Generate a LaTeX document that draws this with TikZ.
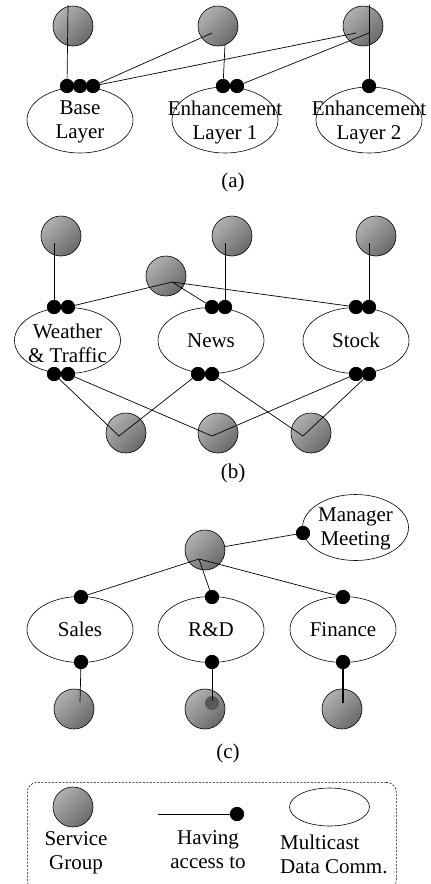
\documentclass[tikz,border=0pt]{standalone}
\usepackage{fontspec}
\setmainfont{Liberation Serif}
\usetikzlibrary{shapes.geometric}
\definecolor{grplight}{HTML}{B0B0B0}
\definecolor{grpdark}{HTML}{6A6A6A}
\definecolor{innerdot}{HTML}{585858}
\tikzset{
  grp/.style={circle, draw=black, line width=0.6pt, minimum size=40pt, inner sep=0pt,
    shading=axis, top color=grplight, bottom color=grpdark, shading angle=45},
  mc/.style={ellipse, draw=black, line width=0.6pt, minimum width=106pt, minimum height=66pt,
    inner sep=0pt, fill=white},
  acc/.style={circle, fill=black, minimum size=14pt, inner sep=0pt},
  txt/.style={font=\fontsize{21}{24}\selectfont, align=center, inner sep=0pt},
  link/.style={line width=0.7pt},
  legendbox/.style={draw=black, line width=0.6pt, rounded corners=10pt, dash pattern=on 2pt off 1.5pt}
}
\begin{document}
\begin{tikzpicture}[x=1pt, y=-1pt]
\useasboundingbox (0,0) rectangle (431,884);

% ---------------- (a) layered video ----------------
\node[grp] (ga1) at (73,26) {};
\node[grp] (ga2) at (218,26) {};
\node[grp] (ga3) at (363,26) {};
\node[mc] (ea1) at (80,120) {};
\node[mc] (ea2) at (225,120) {};
\node[mc] (ea3) at (369,120) {};
\node[txt] (ta1) at (80,122) {Base\\Layer};
\node[txt] (ta2) at (225,122) {Enhancement\\Layer 1};
\node[txt] (ta3) at (369,122) {Enhancement\\Layer 2};
\coordinate (pa1) at (68,5);
\coordinate (pa2) at (212,33);
\coordinate (pa3) at (225,45);
\coordinate (pa4) at (356,33);
\coordinate (pa5) at (369,33);
\coordinate (pa6) at (369,5);
\node[acc] (da1) at (67,86) {};
\node[acc] (da2) at (80,86) {};
\node[acc] (da3) at (93,86) {};
\node[acc] (da4) at (223,86) {};
\node[acc] (da5) at (237,86) {};
\node[acc] (da6) at (369,86) {};
\draw[link] (pa1) -- (da1);
\draw[link] (pa2) -- (da3);
\draw[link] (pa4) -- (da3);
\draw[link] (pa3) -- (da4);
\draw[link] (pa5) -- (da5);
\draw[link] (pa6) -- (da6);
\node[acc] at (da1) {};
\node[acc] at (da2) {};
\node[acc] at (da3) {};
\node[acc] at (da4) {};
\node[acc] at (da5) {};
\node[acc] at (da6) {};
\node[txt] (capa) at (233,182) {(a)};

% ---------------- (b) information services ----------------
\node[grp] (gb1) at (61,236) {};
\node[grp] (gb2) at (232,236) {};
\node[grp] (gb3) at (376,236) {};
\node[grp] (gbh) at (166,276) {};
\node[grp] (gb4) at (126,433) {};
\node[grp] (gb5) at (218,433) {};
\node[grp] (gb6) at (311,433) {};
\node[mc] (eb1) at (67.5,340.5) {};
\node[mc] (eb2) at (211,340.5) {};
\node[mc] (eb3) at (356,340.5) {};
\node[txt] (tb1) at (67.5,343) {Weather\\\& Traffic};
\node[txt] (tb2) at (211,340.5) {News};
\node[txt] (tb3) at (356,340.5) {Stock};
\coordinate (pb1) at (54,243);
\coordinate (pb2) at (225,243);
\coordinate (pb3) at (369,243);
\coordinate (pbh) at (172,282);
\coordinate (pb4) at (119,436);
\coordinate (pb5) at (212,436);
\coordinate (pb6) at (303,436);
\node[acc] (db1) at (54,307) {};
\node[acc] (db2) at (68,307) {};
\node[acc] (db3) at (212,307) {};
\node[acc] (db4) at (225,307) {};
\node[acc] (db5) at (356,307) {};
\node[acc] (db6) at (369,307) {};
\node[acc] (db7) at (54,374) {};
\node[acc] (db8) at (68,374) {};
\node[acc] (db9) at (198,374) {};
\node[acc] (db10) at (212,374) {};
\node[acc] (db11) at (356,374) {};
\node[acc] (db12) at (369,374) {};
\draw[link] (pb1) -- (db1);
\draw[link] (pb2) -- (db4);
\draw[link] (pb3) -- (db6);
\draw[link] (pbh) -- (db2);
\draw[link] (pbh) -- (db3);
\draw[link] (pbh) -- (db5);
\draw[link] (db7) -- (pb4);
\draw[link] (db8) -- (pb5);
\draw[link] (db9) -- (pb4);
\draw[link] (db10) -- (pb6);
\draw[link] (db11) -- (pb5);
\draw[link] (db12) -- (pb6);
\foreach \d in {db1,db2,db3,db4,db5,db6,db7,db8,db9,db10,db11,db12}
  \node[acc] at (\d) {};
\node[txt] (capb) at (233,473) {(b)};

% ---------------- (c) company groups ----------------
\node[mc] (ecm) at (355.5,527.5) {};
\node[txt] (tcm) at (355.5,529) {Manager\\Meeting};
\node[grp] (gch) at (205,550) {};
\node[mc] (ec1) at (80,629.5) {};
\node[mc] (ec2) at (211,629.5) {};
\node[mc] (ec3) at (343,629.5) {};
\node[txt] (tc1) at (80,629.5) {Sales};
\node[txt] (tc2) at (211,629.5) {R\&D};
\node[txt] (tc3) at (343,629.5) {Finance};
\node[grp] (gc1) at (74,709) {};
\node[grp] (gc2) at (205,709) {};
\node[grp] (gc3) at (342,709) {};
\node[circle, fill=innerdot, minimum size=14pt, inner sep=0pt] (gc2in) at (212,703) {};
\coordinate (pch) at (199,559);
\coordinate (pc1) at (80,702);
\coordinate (pc2) at (212,701);
\coordinate (pc3) at (343,703);
\node[acc] (dcm) at (303,533) {};
\node[acc] (dc1) at (81,597) {};
\node[acc] (dc2) at (212,597) {};
\node[acc] (dc3) at (343,597) {};
\node[acc] (dc4) at (81,662) {};
\node[acc] (dc5) at (212,662) {};
\node[acc] (dc6) at (343,662) {};
\draw[link] (gch) -- (dcm);
\draw[link] (pch) -- (dc1);
\draw[link] (pch) -- (dc2);
\draw[link] (pch) -- (dc3);
\draw[link] (dc4) -- (pc1);
\draw[link] (dc5) -- (pc2);
\draw[line width=1.1pt] (dc6) -- (pc3);
\foreach \d in {dcm,dc1,dc2,dc3,dc4,dc5,dc6}
  \node[acc] at (\d) {};
\node[txt] (capc) at (228,753) {(c)};

% ---------------- legend ----------------
\node[legendbox, minimum width=369pt, minimum height=108pt, anchor=north west] (leg) at (27,782) {};
\node[grp] (lg1) at (73,807) {};
\coordinate (ll) at (158,814);
\node[acc] (ld) at (237,814) {};
\draw[link] (ll) -- (ld);
\node[acc] at (ld) {};
\node[mc, minimum width=80pt, minimum height=38pt] (le) at (329.5,807) {};
\node[txt] (lt1) at (76,852.5) {Service\\Group};
\node[txt] (lt2) at (208,849.5) {Having\\access to};
\node[txt, align=left, anchor=west] (lt3) at (280,854.5) {Multicast\\Data Comm.};
\end{tikzpicture}
\end{document}
